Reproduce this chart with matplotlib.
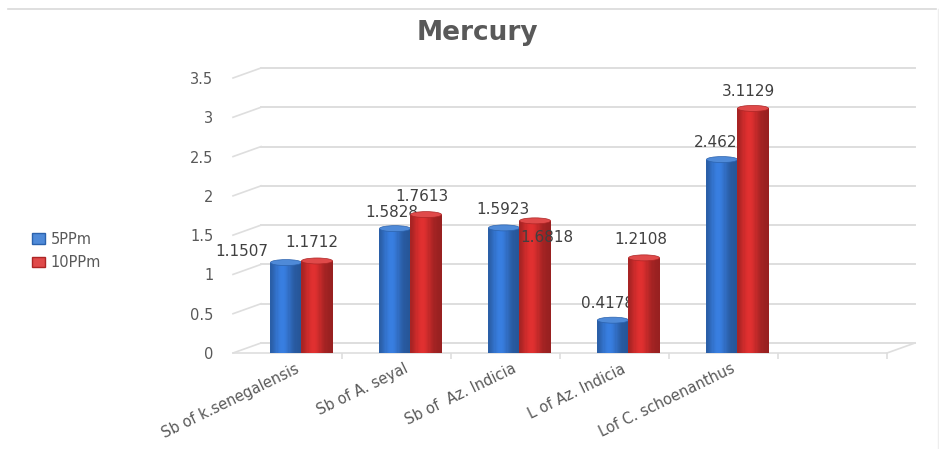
import numpy as np
import matplotlib.pyplot as plt
import matplotlib.transforms as mtransforms
from matplotlib.patches import Ellipse, Patch
from matplotlib.lines import Line2D

categories = ["Sb of k.senegalensis", "Sb of A. seyal", "Sb of  Az. Indicia",
              "L of Az. Indicia", "Lof C. schoenanthus"]
ppm5 = [1.1507, 1.5828, 1.5923, 0.4178, 2.462]
ppm10 = [1.1712, 1.7613, 1.6818, 1.2108, 3.1129]
series_names = ["5PPm", "10PPm"]
yticks = [0, 0.5, 1, 1.5, 2, 2.5, 3, 3.5]

W, H = 939, 449
fig = plt.figure(figsize=(W / 100, H / 100), dpi=100)
fig.patch.set_facecolor("white")

# front plane of the 3d box, in pixels
left_px, right_px, bot_px, top_px = 233, 887, 353, 78
ax = fig.add_axes([left_px / W, 1 - bot_px / H, (right_px - left_px) / W, (bot_px - top_px) / H])
ax.set_xlim(-0.5, 5.5)
ax.set_ylim(0, 3.5)
for s in ax.spines.values():
    s.set_visible(False)

sx = 6.0 / (right_px - left_px)   # data units per pixel
sy = 3.5 / (bot_px - top_px)
depth_x, depth_y = 28 * sx, 10 * sy
grid_c = "#dedede"

# back wall gridlines plus the little diagonal on the side wall
for v in yticks:
    ax.plot([-0.5, -0.5 + depth_x], [v, v + depth_y], color=grid_c, lw=1.2, clip_on=False, zorder=0.5)
    ax.plot([-0.5 + depth_x, 5.5 + depth_x], [v + depth_y] * 2, color=grid_c, lw=1.4,
            clip_on=False, zorder=0.5)
ax.plot([-0.5, 5.5], [0, 0], color=grid_c, lw=1.2, clip_on=False, zorder=0.6)
ax.plot([5.5, 5.5 + depth_x], [0, depth_y], color=grid_c, lw=1.2, clip_on=False, zorder=0.6)

# cylinder-ish bars: thin strips with a shading profile, then an elliptic cap
bw = 0.285
shift = 14 * sx
nstrip = 26
t = (np.arange(nstrip) + 0.5) / nstrip
shade = 0.74 + 0.36 * np.exp(-((t - 0.38) / 0.3) ** 2)
bases = {"5PPm": np.array([0.20, 0.45, 0.80]), "10PPm": np.array([0.80, 0.17, 0.17])}
caps = {"5PPm": "#4f8ad8", "10PPm": "#e04a4a"}
x = np.arange(len(categories))

def draw_cylinders(xc, vals, name, z):
    base = bases[name]
    for k in range(nstrip):
        col = np.clip(base * shade[k], 0, 1)
        ax.bar(xc - bw / 2 + (k + 0.5) * bw / nstrip, vals, width=bw / nstrip * 1.08,
               color=col, linewidth=0, zorder=z)
    for xi, v in zip(xc, vals):
        ax.add_patch(Ellipse((xi, v), bw, 6 * sy, facecolor=caps[name],
                             edgecolor=np.clip(base * 0.85, 0, 1), lw=0.5, zorder=z + 0.05))
        ax.add_patch(Ellipse((xi, 0), bw, 6 * sy, facecolor=np.clip(base * 0.8, 0, 1),
                             lw=0, zorder=z - 0.05))

x5 = x - bw / 2 + shift
x10 = x + bw / 2 + shift
draw_cylinders(x5, ppm5, "5PPm", 2)
draw_cylinders(x10, ppm10, "10PPm", 3)

# data labels (offsets in pixels: right, up)
lab_c = "#404040"
off5 = [(-44, 11), (-3, 16), (-1, 18), (-5, 17), (-6, 17)]
off10 = [(-5, 18), (-4, 18), (12, -17), (-3, 18), (-5, 17)]
for xs, vals, offs, z in ((x5, ppm5, off5, 2.5), (x10, ppm10, off10, 4)):
    for xi, v, (dx, dy) in zip(xs, vals, offs):
        ax.annotate(f"{v}", (xi, v), xytext=(dx * 0.72, dy * 0.72), textcoords="offset points",
                    ha="center", va="center", fontsize=11, color=lab_c, zorder=z)

# axis ticks
ax.set_yticks(yticks)
ax.set_yticklabels([f"{v:g}" for v in yticks], fontsize=10.5, color="#595959")
ax.tick_params(axis="y", length=0, pad=14)
ax.set_xticks(x)
ax.set_xticklabels(categories, rotation=26, ha="right", rotation_mode="anchor",
                   va="top", fontsize=10.5, color="#595959")
ax.set_xticks(np.arange(6) + 0.5, minor=True)
ax.tick_params(axis="x", which="major", length=0, pad=6)
ax.tick_params(axis="x", which="minor", length=4, color=grid_c, width=1.2)
xoff = mtransforms.ScaledTranslation(7 / 100, 0, fig.dpi_scale_trans)
for lbl in ax.get_xticklabels():
    lbl.set_transform(lbl.get_transform() + xoff)

fig.text(477 / W, 1 - 33 / H, "Mercury", ha="center", va="center", fontsize=19,
         fontweight="bold", color="#595959")

handles = [Patch(facecolor=caps[n], edgecolor=np.clip(bases[n] * 0.85, 0, 1), label=n)
           for n in series_names]
fig.legend(handles=handles, loc="center left", bbox_to_anchor=(26 / W, 1 - 251 / H),
           frameon=False, fontsize=10.5, labelcolor="#595959", handlelength=0.9,
           handleheight=0.7, handletextpad=0.4, labelspacing=0.6, borderaxespad=0)

# chart border lines
fig.add_artist(Line2D([8 / W, 936 / W], [1 - 9 / H] * 2, color="#d9d9d9", lw=1.2))
fig.add_artist(Line2D([937.5 / W] * 2, [1 - 9 / H, 0], color="#eeeeee", lw=1))

fig.savefig("out.png", dpi=100)
